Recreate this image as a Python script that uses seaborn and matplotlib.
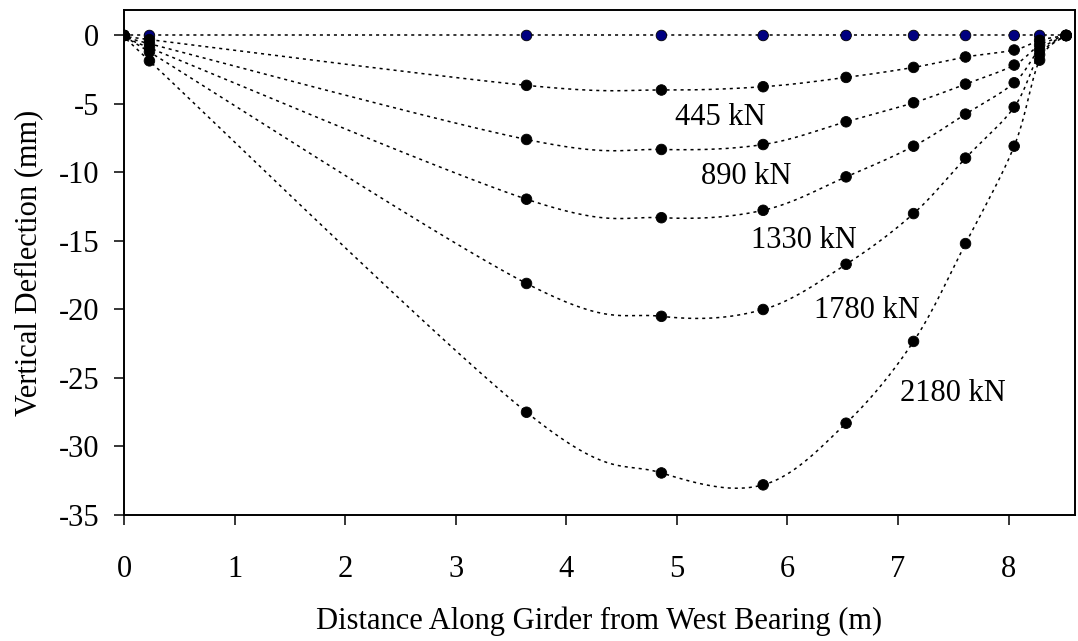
import numpy as np
import pandas as pd
import matplotlib
matplotlib.use("Agg")
import matplotlib.pyplot as plt
import seaborn as sns

# Gauge positions along the girder (m)
distance_m = [0.0, 0.23, 3.64, 4.86, 5.78, 6.53, 7.14, 7.61, 8.05, 8.28, 8.52]

# Vertical deflection (mm) at each gauge for each load step
defl_0kN = [0.0, 0.0, 0.0, 0.0, 0.0, 0.0, 0.0, 0.0, 0.0, 0.0, 0.0]
defl_445kN = [0.0, -0.30, -3.64, -3.98, -3.74, -3.06, -2.33, -1.57, -1.06, -0.35, 0.0]
defl_890kN = [0.0, -0.60, -7.59, -8.32, -7.96, -6.30, -4.91, -3.55, -2.16, -0.70, 0.0]
defl_1330kN = [0.0, -0.90, -11.95, -13.30, -12.76, -10.32, -8.08, -5.74, -3.45, -1.05, 0.0]
defl_1780kN = [0.0, -1.20, -18.10, -20.50, -20.00, -16.70, -13.00, -8.95, -5.23, -1.40, 0.0]
defl_2180kN = [0.0, -1.85, -27.50, -31.93, -32.80, -28.30, -22.33, -15.19, -8.08, -1.80, 0.0]

load_names = ["0 kN", "445 kN", "890 kN", "1330 kN", "1780 kN", "2180 kN"]
series = [defl_0kN, defl_445kN, defl_890kN, defl_1330kN, defl_1780kN, defl_2180kN]

# Curve annotations (text, x, y)
label_text = ["445 kN", "890 kN", "1330 kN", "1780 kN", "2180 kN"]
label_x = [5.39, 5.63, 6.15, 6.72, 7.50]
label_y = [-5.99, -10.27, -14.95, -20.07, -26.10]

x_ticks = [0, 1, 2, 3, 4, 5, 6, 7, 8]
y_ticks = [0, -5, -10, -15, -20, -25, -30, -35]


def smooth_path(xs, ys, n=40):
    """Piecewise cubic Bezier through the points (spreadsheet-style smoothing)."""
    pts = np.column_stack([xs, ys]).astype(float)
    m = len(pts)
    t = np.linspace(0.0, 1.0, n)[:, None]
    pieces = []
    for i in range(m - 1):
        p0 = pts[i - 1] if i > 0 else pts[i]
        p1, p2 = pts[i], pts[i + 1]
        p3 = pts[i + 2] if i + 2 < m else pts[i + 1]
        c1 = p1 + (p2 - p0) / 6.0
        c2 = p2 - (p3 - p1) / 6.0
        seg = ((1 - t) ** 3) * p1 + 3 * ((1 - t) ** 2) * t * c1 \
            + 3 * (1 - t) * (t ** 2) * c2 + (t ** 3) * p2
        pieces.append(seg if i == 0 else seg[1:])
    return np.vstack(pieces)


sns.set_style("white")
plt.rcParams["font.family"] = ["Liberation Serif", "DejaVu Serif"]
plt.rcParams["font.size"] = 22

fig = plt.figure(figsize=(10.78, 6.41), dpi=100)
ax = fig.add_axes([124 / 1078, 1 - 515 / 641, (1075 - 124) / 1078, (515 - 10) / 641])

records = []
for name, vals in zip(load_names, series):
    path = smooth_path(distance_m, vals)
    sns.lineplot(x=path[:, 0], y=path[:, 1], sort=False, estimator=None,
                 color="black", linewidth=1.1, linestyle=(0, (2.0, 2.6)),
                 ax=ax, zorder=2)
    for xv, yv in zip(distance_m, vals):
        records.append({"distance": xv, "deflection": yv, "load": name})

points = pd.DataFrame(records)
palette = {n: "black" for n in load_names}
palette["0 kN"] = "#000080"
sns.scatterplot(data=points, x="distance", y="deflection", hue="load",
                hue_order=load_names, palette=palette, s=58,
                edgecolor="black", linewidth=0.6, legend=False, ax=ax, zorder=3)

for txt, lx, ly in zip(label_text, label_x, label_y):
    ax.text(lx, ly, txt, ha="center", va="center", fontsize=22, color="black")

ax.set_xlim(0, 8.6)
ax.set_ylim(-35, 1.86)
ax.set_xticks(x_ticks)
ax.set_yticks(y_ticks)
ax.set_xticklabels([str(v) for v in x_ticks])
ax.set_yticklabels([str(v) for v in y_ticks])
ax.tick_params(axis="x", direction="out", length=7, width=1.1, pad=22,
               labelsize=22, colors="black", bottom=True)
ax.tick_params(axis="y", direction="out", length=7, width=1.1, pad=11,
               labelsize=22, colors="black", left=True)
for sp in ax.spines.values():
    sp.set_color("black")
    sp.set_linewidth(1.4)

ax.set_xlabel("Distance Along Girder from West Bearing (m)", fontsize=22,
              labelpad=16, color="black")
ax.set_ylabel("Vertical Deflection (mm)", fontsize=22, labelpad=11,
              color="black")

fig.savefig("out.png", dpi=100, facecolor="white")
